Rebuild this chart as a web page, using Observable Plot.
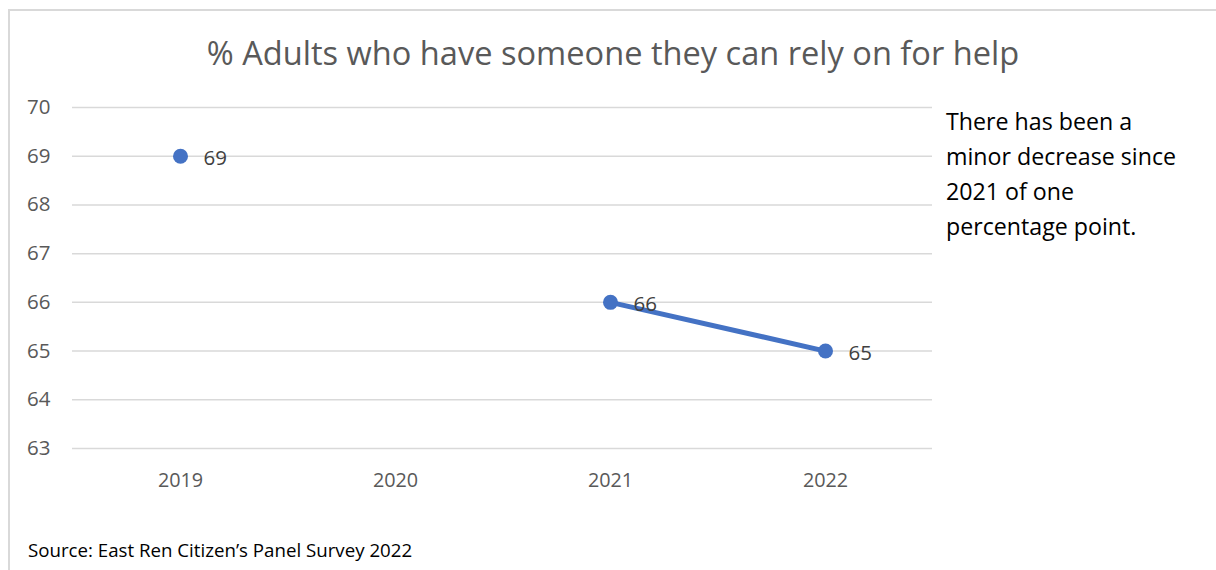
<!DOCTYPE html>
<html>
<head>
<meta charset="utf-8">
<script src="https://cdn.jsdelivr.net/npm/d3@7"></script>
<script src="https://cdn.jsdelivr.net/npm/@observablehq/plot@0.6"></script>
<style>
  html, body { margin: 0; padding: 0; background: #fff; }
  #wrap { position: relative; width: 1216px; height: 570px; overflow: hidden; font-family: "Open Sans", Lato, sans-serif; }
  #frame { position: absolute; left: 8px; top: 9px; width: 1300px; height: 700px; border-top: 2px solid #d9d9d9; border-left: 2px solid #d9d9d9; box-sizing: border-box; }
  #chart { position: absolute; left: 0; top: 0; }
  #title { position: absolute; left: 0; width: 1226px; top: 33px; text-align: center; font-size: 32.6px; color: #595959; line-height: 40px; }
  #note { position: absolute; left: 946px; top: 104px; font-size: 23.2px; line-height: 35px; color: #000; }
  #source { position: absolute; left: 28px; top: 537px; font-size: 18.7px; color: #000; }
</style>
</head>
<body>
<div id="wrap">
  <div id="frame"></div>
  <div id="chart"></div>
  <div id="title">% Adults who have someone they can rely on for help</div>
  <div id="note">There has been a<br>minor decrease since<br>2021 of one<br>percentage point.</div>
  <div id="source">Source: East Ren Citizen’s Panel Survey 2022</div>
</div>
<script>
const years = ["2019", "2020", "2021", "2022"];
const values = [69, null, 66, 65];
const yTicks = [63, 64, 65, 66, 67, 68, 69, 70];

const data = years.map((y, i) => ({year: y, value: values[i]}));
const pts = data.filter(d => d.value != null);

const chart = Plot.plot({
  width: 1216,
  height: 570,
  marginLeft: 72,
  marginRight: 284,
  marginTop: 107,
  marginBottom: 122,
  style: {fontFamily: "'Open Sans', Lato, sans-serif", background: "transparent"},
  x: {type: "point", domain: years, padding: 0.5},
  y: {domain: [63, 70]},
  marks: [
    Plot.gridY(yTicks, {stroke: "#d9d9d9", strokeOpacity: 1, strokeWidth: 1.5}),
    Plot.axisY(yTicks, {tickSize: 0, tickPadding: 22, fontSize: 20.5, fill: "#595959", label: null}),
    Plot.axisX(years, {tickSize: 0, tickPadding: 24, fontSize: 19.8, fill: "#595959", label: null}),
    Plot.line(data, {x: "year", y: "value", stroke: "#4472C4", strokeWidth: 5, curve: "linear"}),
    Plot.dot(pts, {x: "year", y: "value", r: 7.5, fill: "#4472C4", stroke: "none"}),
    Plot.text(pts, {x: "year", y: "value", text: d => String(d.value), dx: 23, dy: 2, textAnchor: "start", fontSize: 20.5, fill: "#404040"})
  ]
});
document.getElementById("chart").appendChild(chart);
</script>
</body>
</html>
